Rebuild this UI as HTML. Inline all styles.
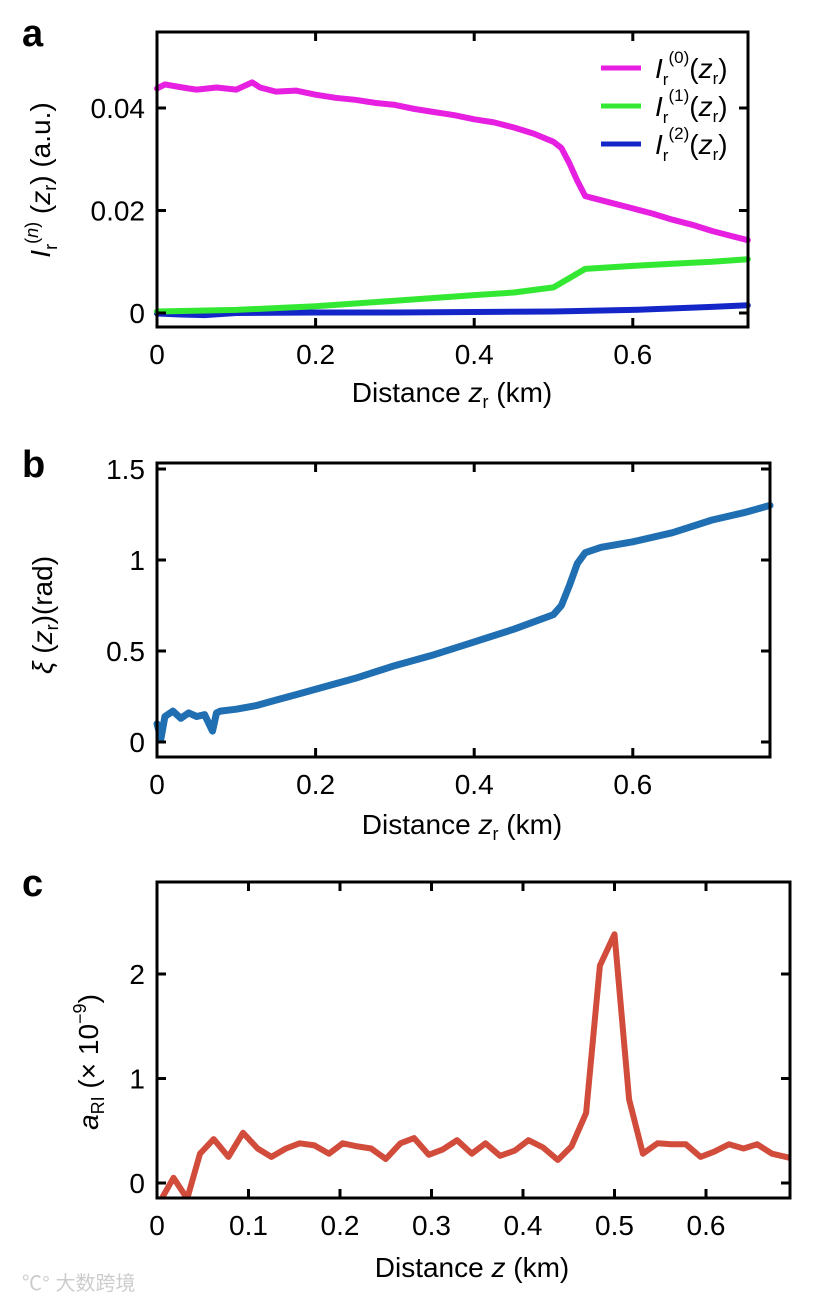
<!DOCTYPE html>
<html><head><meta charset="utf-8"><style>
html,body{margin:0;padding:0;background:#fff}
svg{display:block;font-family:"Liberation Sans",Arial,sans-serif}
</style></head><body>
<svg id="fig" width="819" height="1300" viewBox="0 0 819 1300" xmlns="http://www.w3.org/2000/svg">
<g id="pa"></g>
<g id="pb"></g>
<g id="pc"></g>
<text x="22" y="1290" font-size="20" fill="#ccc" font-family="'Liberation Sans','Noto Sans CJK SC',sans-serif">℃° 大数跨境</text>
</svg>
<script>
// Panel a data
const aX0 = [0,0.01,0.025,0.04,0.05,0.075,0.1,0.12,0.13,0.15,0.175,0.2,0.225,0.25,0.275,0.3,0.325,0.35,0.375,0.4,0.425,0.45,0.475,0.5,0.51,0.52,0.53,0.54,0.55,0.575,0.6,0.625,0.65,0.675,0.7,0.725,0.745];
const aI0 = [0.0438,0.0446,0.0442,0.0438,0.0436,0.0440,0.0436,0.0450,0.0440,0.0432,0.0434,0.0426,0.0420,0.0416,0.0410,0.0406,0.0398,0.0392,0.0386,0.0378,0.0372,0.0362,0.0350,0.0334,0.0322,0.0292,0.0258,0.0228,0.0224,0.0214,0.0204,0.0194,0.0182,0.0172,0.0160,0.0150,0.0142];
const aX1 = [0,0.1,0.2,0.3,0.4,0.45,0.5,0.52,0.54,0.6,0.65,0.7,0.745];
const aI1 = [0.0003,0.0006,0.0013,0.0024,0.0035,0.0040,0.0050,0.0068,0.0086,0.0092,0.0096,0.0100,0.0105];
const aX2 = [0,0.03,0.06,0.1,0.2,0.3,0.4,0.5,0.6,0.7,0.745];
const aI2 = [-0.0001,-0.0003,-0.0004,0.0000,0.0001,0.0001,0.0002,0.0003,0.0006,0.0012,0.0015];
const aXTicks = [0,0.2,0.4,0.6];
const aYTicks = [0,0.02,0.04];
const aYLabels = ["0","0.02","0.04"];
// Panel b data
const bX = [0,0.005,0.01,0.02,0.03,0.04,0.05,0.06,0.07,0.075,0.08,0.1,0.125,0.15,0.175,0.2,0.25,0.3,0.35,0.4,0.45,0.5,0.51,0.52,0.53,0.54,0.56,0.6,0.65,0.7,0.74,0.773];
const bY = [0.1,0.02,0.14,0.17,0.13,0.16,0.14,0.15,0.06,0.16,0.17,0.18,0.20,0.23,0.26,0.29,0.35,0.42,0.48,0.55,0.62,0.70,0.75,0.86,0.98,1.04,1.07,1.10,1.15,1.22,1.26,1.30];
const bXTicks = [0,0.2,0.4,0.6];
const bYTicks = [0,0.5,1,1.5];
const bYLabels = ["0","0.5","1","1.5"];
// Panel c data
const cX = [0.005,0.018,0.033,0.047,0.062,0.078,0.094,0.11,0.125,0.141,0.156,0.172,0.188,0.203,0.219,0.234,0.25,0.266,0.281,0.297,0.312,0.328,0.344,0.359,0.375,0.391,0.406,0.422,0.438,0.453,0.469,0.484,0.5,0.516,0.531,0.547,0.562,0.578,0.594,0.609,0.625,0.641,0.656,0.672,0.692];
const cY = [-0.15,0.05,-0.15,0.28,0.42,0.25,0.48,0.33,0.25,0.33,0.38,0.36,0.28,0.38,0.35,0.33,0.23,0.38,0.43,0.27,0.32,0.41,0.28,0.38,0.26,0.31,0.41,0.34,0.22,0.35,0.67,2.08,2.38,0.8,0.28,0.38,0.37,0.37,0.25,0.3,0.37,0.33,0.37,0.28,0.24];
const cXTicks = [0,0.1,0.2,0.3,0.4,0.5,0.6];
const cYTicks = [0,1,2];

const FS=28;
const NS="http://www.w3.org/2000/svg";
function mk(parent,tag,attrs,text){const e=document.createElementNS(NS,tag);for(const k in attrs)e.setAttribute(k,attrs[k]);if(text!==undefined)e.textContent=text;parent.appendChild(e);return e;}

function axes(g,L,T,R,B,sx,sy,xt,xl,yt,yl){
  const box=mk(g,'rect',{x:L,y:T,width:R-L,height:B-T,fill:'none',stroke:'#000','stroke-width':3});
  
  
  xt.forEach((v,i)=>{const x=sx(v);
    const t=mk(g,'path',{d:`M${x},${B}v-9M${x},${T}v9`,stroke:'#000','stroke-width':3});
    
    
    const l=mk(g,'text',{x:x,y:B+37,'font-size':FS,'text-anchor':'middle'},xl[i]);
    
    
  });
  yt.forEach((v,i)=>{const y=sy(v);
    const t=mk(g,'path',{d:`M${L},${y}h9M${R},${y}h-9`,stroke:'#000','stroke-width':3});
    
    
    const l=mk(g,'text',{x:L-12,y:y+10,'font-size':FS,'text-anchor':'end'},yl[i]);
    
    
  });
}
function line(g,xs,ys,sx,sy,color,w,name){
  const d=xs.map((x,i)=>(i?'L':'M')+sx(x).toFixed(1)+','+sy(ys[i]).toFixed(1)).join('');
  const p=mk(g,'path',{d:d,fill:'none',stroke:color,'stroke-width':w,'stroke-linejoin':'round','stroke-linecap':'round'});
  
  
}
function lbl(g,x,y,html,name,rot){
  const t=mk(g,'text',{x:x,y:y,'font-size':FS,'text-anchor':'middle'});
  if(rot) t.setAttribute('transform',`rotate(-90 ${x} ${y})`);
  t.innerHTML=html;
  
  
  return t;
}
// Panel a
(function(){
  const g=document.getElementById('pa');
  const L=157,T=32,R=748,B=327;
  const sx=v=>L+v*793, sy=v=>313-v*5125;
  line(g,aX2,aI2,sx,sy,'#1426c8',6,'series-i2');
  line(g,aX1,aI1,sx,sy,'#33e833',6,'series-i1');
  line(g,aX0,aI0,sx,sy,'#e61fe0',6,'series-i0');
  axes(g,L,T,R,B,sx,sy,aXTicks,aXTicks.map(String),aYTicks,aYLabels);
  const p=mk(g,'text',{x:22,y:46,'font-size':38,'font-weight':'bold'},'a');
   
  lbl(g,452,402,'Distance <tspan font-style="italic">z</tspan><tspan font-size="18" dy="6">r</tspan><tspan dy="-6"> (km)</tspan>','x-axis-title');
  lbl(g,50,180,'<tspan font-style="italic">I</tspan><tspan font-size="18" dy="7">r</tspan><tspan font-size="18" dy="-19">(<tspan font-style="italic">n</tspan>)</tspan><tspan dy="12"> (</tspan><tspan font-style="italic">z</tspan><tspan font-size="18" dy="6">r</tspan><tspan dy="-6">) (a.u.)</tspan>','y-axis-title',true);
  const cols=['#e61fe0','#33e833','#1426c8'];
  ['0','1','2'].forEach((n,i)=>{const y=68+38*i;
    const s=mk(g,'path',{d:`M601,${y}h40`,stroke:cols[i],'stroke-width':5});
     
    const t=mk(g,'text',{x:655,y:y+10,'font-size':FS});
    t.innerHTML=`<tspan font-style="italic">I</tspan><tspan font-size="17" dy="7">r</tspan><tspan font-size="17" dy="-22">(${n})</tspan><tspan dy="15">(</tspan><tspan font-style="italic">z</tspan><tspan font-size="17" dy="6">r</tspan><tspan dy="-6">)</tspan>`;
     
  });
})();
// Panel b
(function(){
  const g=document.getElementById('pb');
  const L=157,T=463,R=770,B=757;
  const sx=v=>L+v*793, sy=v=>742-v*182;
  line(g,bX,bY,sx,sy,'#1f6fb2',7,'series-xi');
  axes(g,L,T,R,B,sx,sy,bXTicks,bXTicks.map(String),bYTicks,bYLabels);
  const p=mk(g,'text',{x:22,y:477,'font-size':38,'font-weight':'bold'},'b');
   
  lbl(g,462,834,'Distance <tspan font-style="italic">z</tspan><tspan font-size="18" dy="6">r</tspan><tspan dy="-6"> (km)</tspan>','x-axis-title');
  lbl(g,52,615,'<tspan font-style="italic">ξ</tspan> (<tspan font-style="italic">z</tspan><tspan font-size="18" dy="6">r</tspan><tspan dy="-6">)(rad)</tspan>','y-axis-title',true);
})();
// Panel c
(function(){
  const g=document.getElementById('pc');
  const L=157,T=882,R=790,B=1198;
  const sx=v=>L+v*915, sy=v=>1183-v*104.5;
  const cl=mk(g,'clipPath',{id:'cc'}); mk(cl,'rect',{x:L,y:T,width:R-L,height:B-T});
  const gg=mk(g,'g',{'clip-path':'url(#cc)'});
  line(gg,cX,cY,sx,sy,'#d24c3c',6,'series-a-ri');
  axes(g,L,T,R,B,sx,sy,cXTicks,cXTicks.map(String),cYTicks,cYTicks.map(String));
  const p=mk(g,'text',{x:22,y:896,'font-size':38,'font-weight':'bold'},'c');
   
  lbl(g,472,1277,'Distance <tspan font-style="italic">z</tspan> (km)','x-axis-title');
  lbl(g,98,1062,'<tspan font-style="italic">a</tspan><tspan font-size="18" dy="6">RI</tspan><tspan dy="-6"> (× 10</tspan><tspan font-size="18" dy="-12">−9</tspan><tspan dy="12">)</tspan>','y-axis-title',true);
})();
</script>
</body></html>
